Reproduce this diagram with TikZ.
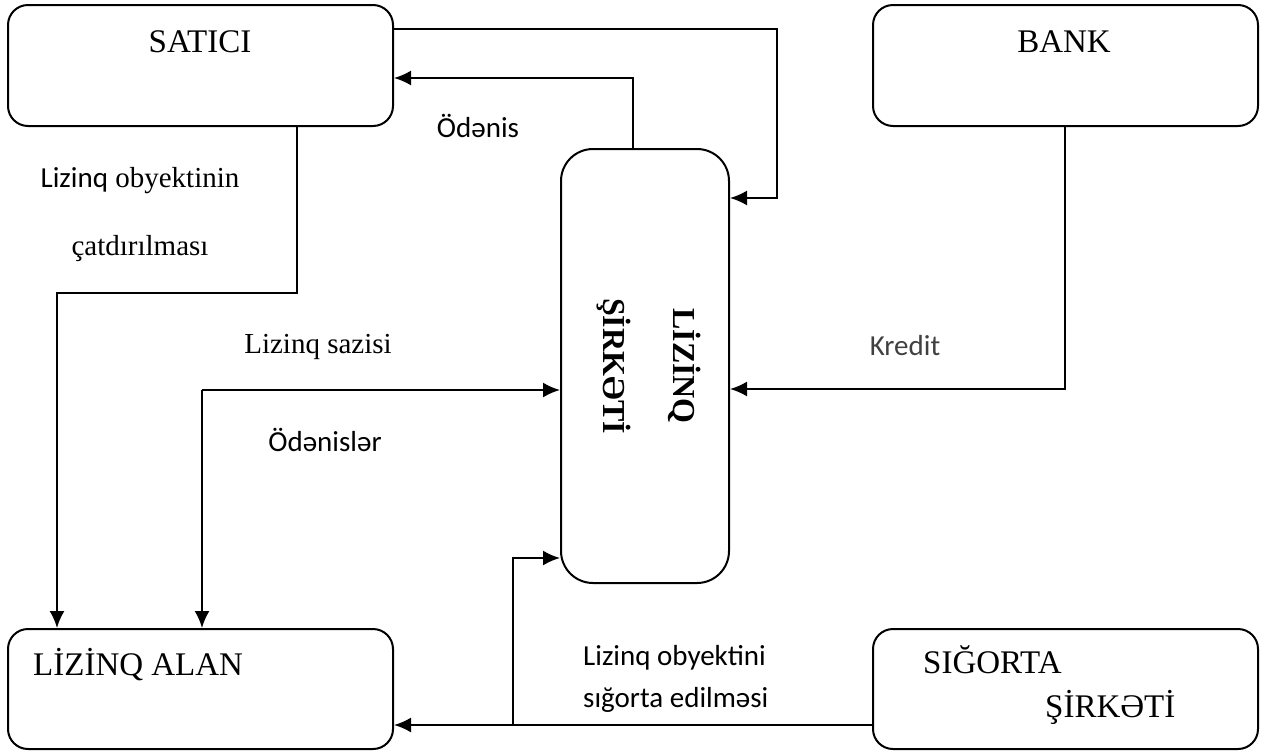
\documentclass[tikz,border=0pt]{standalone}
\usepackage{fontspec}
\setmainfont{Liberation Serif}
\newfontfamily\calfont{Carlito}
\usetikzlibrary{arrows.meta}
\definecolor{kgray}{HTML}{404040}
\tikzset{
  box/.style={draw, line width=2pt, rounded corners=20pt, inner sep=0pt},
  conn/.style={line width=2pt, -{Latex[length=17pt,width=15pt]}},
  title/.style={font=\fontsize{33}{38}\selectfont, inner sep=0pt, anchor=base},
  lbl/.style={font=\calfont\fontsize{29}{34}\selectfont, inner sep=0pt, anchor=base},
  slbl/.style={font=\fontsize{29}{34}\selectfont, inner sep=0pt, anchor=base},
}
\begin{document}
\begin{tikzpicture}[x=1pt,y=-1pt]
\useasboundingbox (0,0) rectangle (1268,753);
% boxes
\node[box, minimum width=385pt, minimum height=121pt] (satici) at (200.5,65.5) {};
\node[box, minimum width=385pt, minimum height=121pt] (bank) at (1065.5,65.5) {};
\node[box, minimum width=385pt, minimum height=120pt] (alan) at (200.5,689) {};
\node[box, minimum width=385pt, minimum height=120pt] (sigorta) at (1065.5,689) {};
\node[box, rounded corners=32pt, minimum width=168pt, minimum height=434pt] (lizing) at (645,366) {};
% box texts
\node[title] (tsat) at (200,52) {SATICI};
\node[title] (tbank) at (1064,52) {BANK};
\node[title, anchor=base west] (talan) at (33,675) {LİZİNQ ALAN};
\node[title, anchor=base west] (tsig1) at (923,673) {SIĞORTA};
\node[title, anchor=base west] (tsig2) at (1045,717) {ŞİRKƏTİ};
\node[title, font=\bfseries\fontsize{32}{38}\selectfont, rotate=-90] (tliz1) at (673,366) {LİZİNQ};
\node[title, font=\bfseries\fontsize{32}{38}\selectfont, rotate=-90] (tliz2) at (603,366) {ŞİRKƏTİ};
% connectors
\coordinate (c1) at (777,29);
\coordinate (c2) at (777,198);
\draw[conn] (satici.east |- c1) -- (c1) -- (c2) -- (lizing.east |- c2);
\coordinate (c3) at (633,78);
\draw[conn] (lizing.north -| c3) -- (c3) -- (satici.east |- c3);
\coordinate (c4) at (297,293);
\coordinate (c5) at (57,293);
\draw[conn] (satici.south -| c4) -- (c4) -- (c5) -- (alan.north -| c5);
\coordinate (c6) at (202,390);
\draw[conn] (c6) -- (lizing.west |- c6);
\draw[conn] (c6) -- (alan.north -| c6);
\coordinate (c7) at (1065,389);
\draw[conn] (bank.south -| c7) -- (c7) -- (lizing.east |- c7);
\coordinate (c8) at (513,725);
\coordinate (c9) at (513,558);
\draw[conn] (sigorta.west |- c8) -- (alan.east |- c8);
\draw[conn] (c8) -- (c9) -- (lizing.west |- c9);
% labels
\node[lbl] (l1) at (478,137) {Ödənis};
\node[slbl] (l2) at (140,187) {{\calfont Lizinq} obyektinin};
\node[slbl] (l3) at (140,255) {çatdırılması};
\node[slbl] (l4) at (318,353) {Lizinq sazisi};
\node[lbl] (l5) at (325,451) {Ödənislər};
\node[lbl, text=kgray] (l6) at (905,355) {Kredit};
\node[lbl, anchor=base west] (l7) at (583,665) {Lizinq obyektini};
\node[lbl, anchor=base west] (l8) at (583,707) {sığorta edilməsi};
\end{tikzpicture}
\end{document}
